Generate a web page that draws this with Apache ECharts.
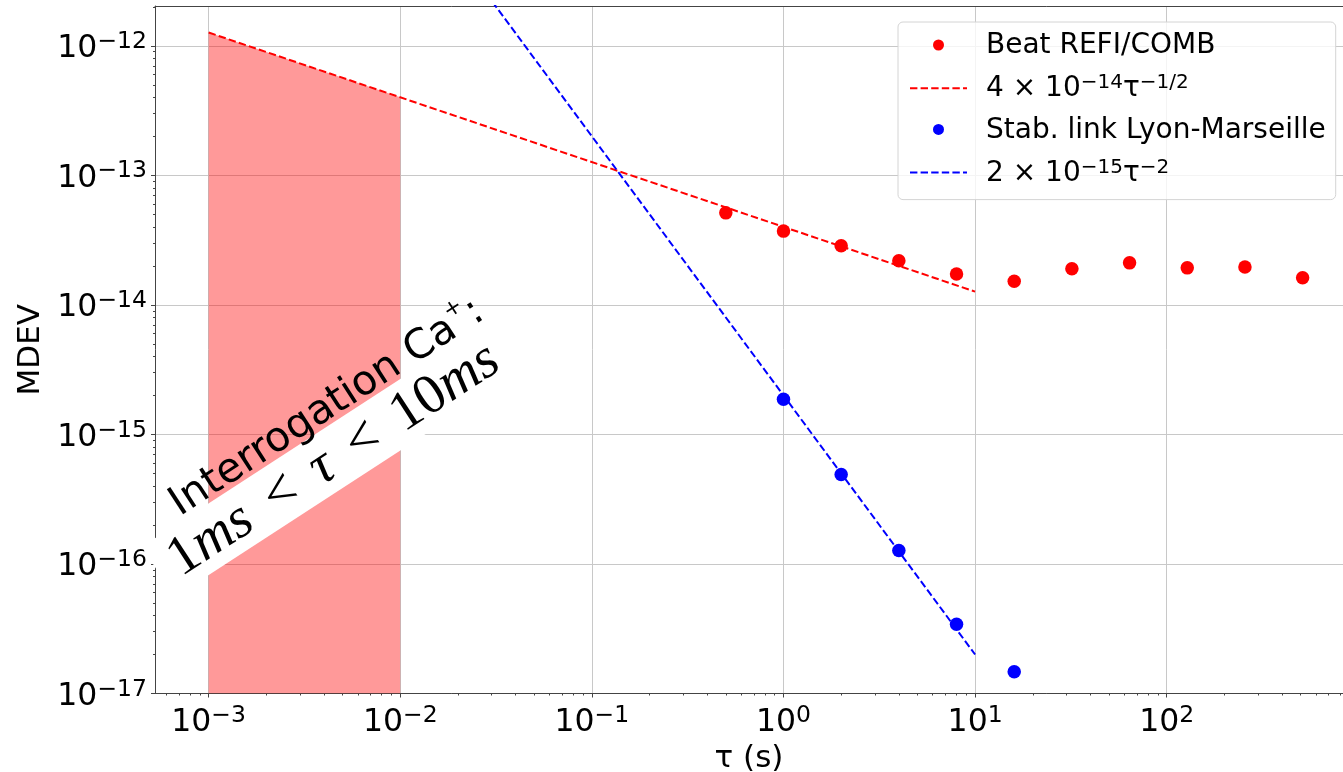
<!DOCTYPE html>
<html><head><meta charset="utf-8">
<script src="https://cdn.jsdelivr.net/npm/echarts@6/dist/echarts.min.js"></script>
<style>html,body{margin:0;padding:0;background:#fff}#c{width:1343px;height:772px}</style>
</head><body><div id="c"></div>
<script>
// ---- data ----
const tauBeat  = [0.5, 1, 2, 4, 8, 16, 32, 64, 128, 256, 512];
const mdevBeat = [5.13e-14, 3.71e-14, 2.86e-14, 2.19e-14, 1.73e-14, 1.52e-14, 1.90e-14, 2.11e-14, 1.93e-14, 1.96e-14, 1.62e-14];
const tauLink  = [1, 2, 4, 8, 16];
const mdevLink = [1.87e-15, 4.9e-16, 1.27e-16, 3.43e-17, 1.47e-17];
// dashed reference lines (end points)
const fitBeatTau = [1e-3, 10];
const fitBeatVal = [1.265e-12, 1.265e-14];
const fitLinkTau = [1e-3, 10];
const fitLinkVal = [2e-9, 2e-17];
// shaded interrogation band (top follows the red dashed line)
const bandTau = [1e-3, 1e-2];
const bandVal = [1.265e-12, 4.0e-13];
// tick labels
const xMajor = [1e-3, 1e-2, 1e-1, 1, 10, 100];
const yMajor = [1e-17, 1e-16, 1e-15, 1e-14, 1e-13, 1e-12];
const xRange = [Math.pow(10, -3.28), Math.pow(10, 2.92)];
const yRange = [1e-17, Math.pow(10, -11.693)];
const legendNames = ['Beat REFI/COMB', 'fitBeat', 'Stab. link Lyon-Marseille', 'fitLink'];
// annotation anchors (data coordinates of the centres of the two text lines)
const annoLine2 = [0.0048, 7.0e-16];
const annoLine1 = [0.00409, 1.66e-15];

function minorTicks(r) {
  const out = [];
  for (let k = -20; k <= 5; k++) for (let m = 2; m <= 9; m++) {
    const v = m * Math.pow(10, k);
    if (v >= r[0] && v <= r[1]) out.push(v);
  }
  return out;
}
const zip = (a, b) => a.map((v, i) => [v, b[i]]);
const FONT = 'DejaVu Sans';
const SERIF = 'Liberation Serif, DejaVu Serif, serif';
const powLabel = v => {
  const e = Math.round(Math.log10(v));
  return '{b|10}{s|' + (e < 0 ? '\u2212' + (-e) : e) + '}';
};
const tickRich = {
  b: {fontSize: 31.5, fontFamily: FONT, color: '#000', lineHeight: 35, verticalAlign: 'bottom'},
  s: {fontSize: 23.5, fontFamily: FONT, color: '#000', lineHeight: 22, verticalAlign: 'top'}
};
const AX = '#444';
const ROT = 33;

const chart = echarts.init(document.getElementById('c'), null, {renderer: 'canvas'});
const baseAxis = (r) => ({type: 'log', logBase: 10, min: r[0], max: r[1], gridIndex: 0});

chart.setOption({
  animation: false,
  backgroundColor: '#fff',
  grid: {left: 155, right: 0, top: 6, bottom: 78.5, containLabel: false, outerBoundsMode: 'none'},
  xAxis: [
    Object.assign(baseAxis(xRange), {
      position: 'bottom',
      axisLine: {show: true, onZero: false, lineStyle: {color: AX, width: 1}},
      axisTick: {show: true, customValues: xMajor, length: 4, lineStyle: {color: AX, width: 1}},
      axisLabel: {customValues: xMajor, formatter: powLabel, rich: tickRich, margin: 10},
      splitLine: {show: true, lineStyle: {color: '#c8c8c8', width: 1}},
      name: '\u03c4 (s)', nameLocation: 'middle', nameGap: 46,
      nameTextStyle: {fontSize: 31, fontFamily: FONT, color: '#000'}
    }),
    Object.assign(baseAxis(xRange), {
      position: 'bottom',
      axisLine: {show: false},
      axisTick: {show: true, customValues: minorTicks(xRange), length: 2, lineStyle: {color: AX, width: 1}},
      axisLabel: {show: false}, splitLine: {show: false}
    }),
    Object.assign(baseAxis(xRange), {
      position: 'top',
      axisLine: {show: true, onZero: false, lineStyle: {color: AX, width: 1}},
      axisTick: {show: false}, axisLabel: {show: false}, splitLine: {show: false}
    })
  ],
  yAxis: [
    Object.assign(baseAxis(yRange), {
      position: 'left',
      axisLine: {show: true, onZero: false, lineStyle: {color: AX, width: 1}},
      axisTick: {show: true, customValues: yMajor, length: 4, lineStyle: {color: AX, width: 1}},
      axisLabel: {customValues: yMajor, formatter: powLabel, rich: tickRich, margin: 8, padding: [3, 0, 0, 0]},
      splitLine: {show: true, lineStyle: {color: '#c8c8c8', width: 1}},
      name: 'MDEV', nameLocation: 'middle', nameGap: 91,
      nameTextStyle: {fontSize: 31, fontFamily: FONT, color: '#000'}
    }),
    Object.assign(baseAxis(yRange), {
      position: 'left',
      axisLine: {show: false},
      axisTick: {show: true, customValues: minorTicks(yRange), length: 2, lineStyle: {color: AX, width: 1}},
      axisLabel: {show: false}, splitLine: {show: false}
    })
  ],
  legend: {
    orient: 'vertical', left: 898, top: 22,
    data: [
      {name: legendNames[0], icon: 'circle'},
      {name: legendNames[1], itemStyle: {opacity: 0, color: 'rgba(0,0,0,0)', borderWidth: 0}},
      {name: legendNames[2], icon: 'circle'},
      {name: legendNames[3], itemStyle: {opacity: 0, color: 'rgba(0,0,0,0)', borderWidth: 0}}
    ],
    itemWidth: 57, itemHeight: 11, itemGap: 13.2,
    padding: [10, 10, 12, 11],
    backgroundColor: 'rgba(255,255,255,0.8)', borderColor: '#d4d4d4', borderWidth: 1, borderRadius: 5,
    selectedMode: false,
    textStyle: {
      fontFamily: FONT, fontSize: 28, color: '#000', padding: [0, 0, 0, 14],
      rich: {
        a: {fontFamily: FONT, fontSize: 28, color: '#000', lineHeight: 30, verticalAlign: 'bottom'},
        s: {fontFamily: FONT, fontSize: 20, color: '#000', lineHeight: 19, verticalAlign: 'top'}
      }
    },
    formatter: n => {
      if (n === 'fitBeat') return '{a|4 \u00d7 10}{s|\u221214}{a|\u03c4}{s|\u22121/2}';
      if (n === 'fitLink') return '{a|2 \u00d7 10}{s|\u221215}{a|\u03c4}{s|\u22122}';
      return '{a|' + n + '}';
    }
  },
  series: [
    {
      name: 'band', type: 'line', xAxisIndex: 0, yAxisIndex: 0, silent: true,
      data: zip(bandTau, bandVal), symbol: 'none',
      lineStyle: {width: 0},
      areaStyle: {color: 'rgba(255,0,0,0.4)', origin: 'start', opacity: 1},
      z: 1
    },
    {
      name: legendNames[1], type: 'line', xAxisIndex: 0, yAxisIndex: 0, silent: true,
      data: zip(fitBeatTau, fitBeatVal), symbol: 'none', clip: true,
      lineStyle: {color: '#ff0000', width: 2, type: [7.4, 3.2]}, itemStyle: {color: '#ff0000'}, z: 3
    },
    {
      name: legendNames[0], type: 'scatter', xAxisIndex: 0, yAxisIndex: 0, silent: true,
      data: zip(tauBeat, mdevBeat), symbol: 'circle', symbolSize: 13.5,
      itemStyle: {color: '#ff0000', opacity: 1}, z: 2
    },
    {
      name: legendNames[3], type: 'line', xAxisIndex: 0, yAxisIndex: 0, silent: true,
      data: zip(fitLinkTau, fitLinkVal), symbol: 'none', clip: true,
      lineStyle: {color: '#0000ff', width: 2, type: [7.4, 3.2]}, itemStyle: {color: '#0000ff'}, z: 3
    },
    {
      name: legendNames[2], type: 'scatter', xAxisIndex: 0, yAxisIndex: 0, silent: true,
      data: zip(tauLink, mdevLink), symbol: 'circle', symbolSize: 13.5,
      itemStyle: {color: '#0000ff', opacity: 1}, z: 2
    },
    {
      name: 'annotation', type: 'scatter', xAxisIndex: 0, yAxisIndex: 0, silent: true,
      symbolSize: 1, itemStyle: {color: 'rgba(0,0,0,0)', opacity: 1}, z: 10, clip: false,
      labelLayout: {hideOverlap: false},
      data: [
        {
          value: annoLine2,
          label: {
            show: true, position: 'inside', rotate: ROT, align: 'center', verticalAlign: 'middle',
            backgroundColor: '#ffffff', padding: [5, 31.5, 1, 16.5], opacity: 1,
            formatter: '{r|1}{i|ms}{o|<}{i|\u03c4}{o|<}{r|10}{i|ms}',
            rich: {
              r: {fontFamily: SERIF, fontSize: 56, fontStyle: 'normal', color: '#000', lineHeight: 54},
              i: {fontFamily: SERIF, fontStyle: 'italic', fontSize: 56, color: '#000', lineHeight: 54},
              o: {fontFamily: SERIF, fontStyle: 'normal', fontSize: 56, color: '#000', lineHeight: 54, padding: [0, 23, 0, 23]}
            }
          }
        },
        {
          value: annoLine1,
          label: {
            show: true, position: 'inside', rotate: ROT, align: 'center', verticalAlign: 'middle', opacity: 1,
            formatter: '{a|Interrogation Ca}{s|+}{a|:}',
            rich: {
              a: {fontFamily: FONT, fontSize: 41, color: '#000', lineHeight: 46, verticalAlign: 'bottom'},
              s: {fontFamily: FONT, fontSize: 22, color: '#000', lineHeight: 22, verticalAlign: 'top'}
            }
          }
        }
      ]
    }
  ]
});
</script>
</body></html>
